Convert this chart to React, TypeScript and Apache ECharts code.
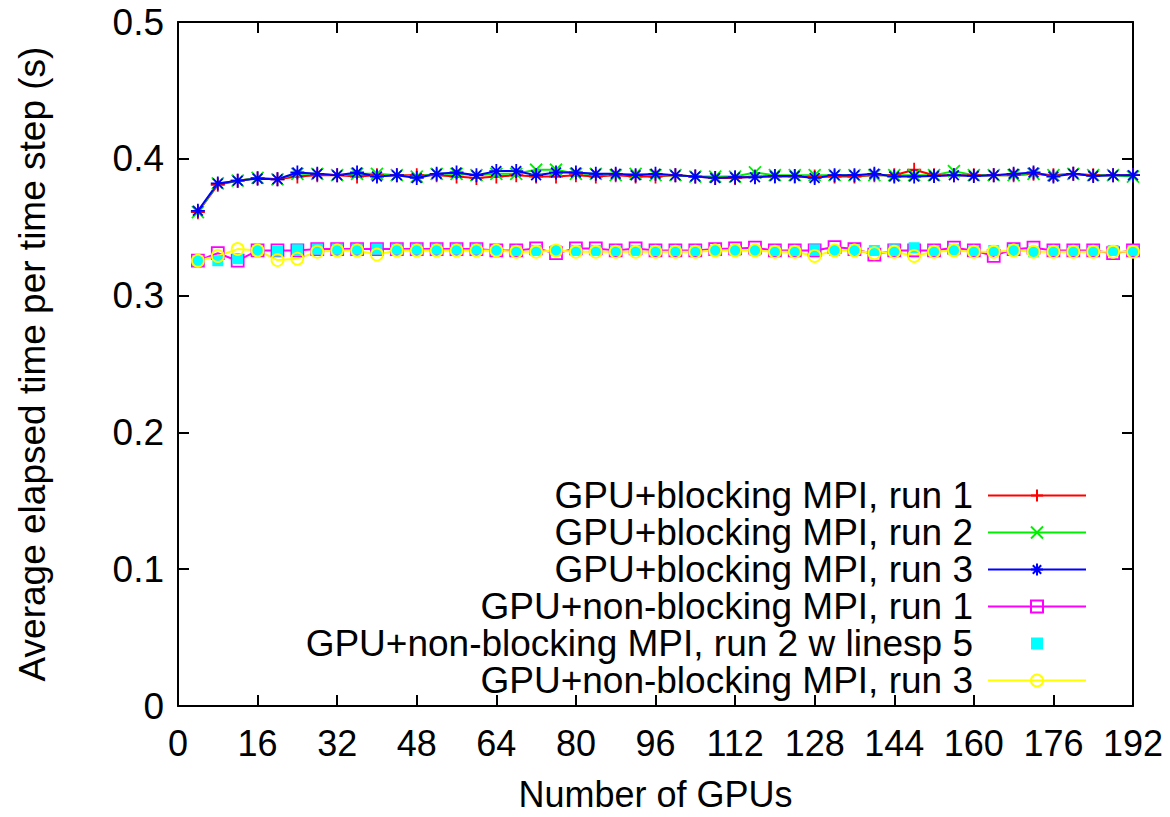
import React, { useEffect, useRef } from "react";
import * as echarts from "echarts";

const gpus = [4, 8, 12, 16, 20, 24, 28, 32, 36, 40, 44, 48, 52, 56, 60, 64, 68, 72, 76, 80, 84, 88, 92, 96, 100, 104, 108, 112, 116, 120, 124, 128, 132, 136, 140, 144, 148, 152, 156, 160, 164, 168, 172, 176, 180, 184, 188, 192];

const blockingRun1 = [0.361, 0.381, 0.384, 0.386, 0.385, 0.387, 0.388, 0.388, 0.387, 0.388, 0.388, 0.388, 0.388, 0.387, 0.386, 0.387, 0.388, 0.387, 0.387, 0.388, 0.387, 0.388, 0.387, 0.387, 0.388, 0.387, 0.386, 0.386, 0.387, 0.387, 0.387, 0.387, 0.387, 0.387, 0.388, 0.388, 0.392, 0.388, 0.388, 0.388, 0.388, 0.388, 0.389, 0.388, 0.389, 0.388, 0.388, 0.388];
const blockingRun2 = [0.361, 0.382, 0.384, 0.386, 0.385, 0.389, 0.389, 0.388, 0.389, 0.389, 0.388, 0.387, 0.389, 0.389, 0.388, 0.389, 0.389, 0.392, 0.392, 0.389, 0.389, 0.388, 0.389, 0.388, 0.388, 0.387, 0.387, 0.387, 0.390, 0.388, 0.388, 0.388, 0.388, 0.388, 0.388, 0.388, 0.388, 0.388, 0.391, 0.388, 0.388, 0.388, 0.389, 0.388, 0.389, 0.388, 0.388, 0.387];
const blockingRun3 = [0.362, 0.382, 0.384, 0.3855, 0.385, 0.390, 0.389, 0.388, 0.390, 0.387, 0.388, 0.386, 0.389, 0.390, 0.388, 0.391, 0.391, 0.388, 0.390, 0.390, 0.389, 0.389, 0.388, 0.389, 0.388, 0.387, 0.386, 0.3865, 0.3865, 0.3875, 0.3875, 0.386, 0.388, 0.388, 0.389, 0.387, 0.387, 0.3875, 0.388, 0.3875, 0.388, 0.389, 0.390, 0.387, 0.389, 0.3875, 0.388, 0.388];
const nonBlockingRun1 = [0.3255, 0.331, 0.3255, 0.333, 0.333, 0.333, 0.334, 0.334, 0.334, 0.334, 0.334, 0.334, 0.334, 0.334, 0.334, 0.333, 0.333, 0.3345, 0.331, 0.3345, 0.3345, 0.333, 0.3345, 0.333, 0.333, 0.333, 0.334, 0.3345, 0.335, 0.333, 0.333, 0.333, 0.3355, 0.334, 0.330, 0.333, 0.333, 0.333, 0.335, 0.333, 0.329, 0.334, 0.335, 0.333, 0.333, 0.333, 0.331, 0.333];
const nonBlockingRun2 = [0.3255, 0.3255, 0.327, 0.333, 0.3325, 0.3335, 0.334, 0.334, 0.334, 0.334, 0.334, 0.334, 0.334, 0.334, 0.334, 0.333, 0.333, 0.333, 0.333, 0.333, 0.333, 0.333, 0.333, 0.333, 0.333, 0.333, 0.333, 0.333, 0.333, 0.333, 0.333, 0.3335, 0.333, 0.3335, 0.333, 0.3335, 0.335, 0.333, 0.3335, 0.333, 0.333, 0.3335, 0.332, 0.333, 0.333, 0.333, 0.333, 0.333];
const nonBlockingRun3 = [0.3255, 0.329, 0.334, 0.333, 0.326, 0.327, 0.332, 0.333, 0.333, 0.330, 0.333, 0.333, 0.333, 0.333, 0.333, 0.333, 0.332, 0.332, 0.333, 0.332, 0.332, 0.332, 0.332, 0.332, 0.332, 0.332, 0.333, 0.333, 0.333, 0.332, 0.332, 0.329, 0.333, 0.333, 0.331, 0.332, 0.329, 0.332, 0.333, 0.332, 0.332, 0.333, 0.332, 0.332, 0.332, 0.332, 0.332, 0.332];

const seriesNames = [
  "GPU+blocking MPI, run 1",
  "GPU+blocking MPI, run 2",
  "GPU+blocking MPI, run 3",
  "GPU+non-blocking MPI, run 1",
  "GPU+non-blocking MPI, run 2 w linesp 5",
  "GPU+non-blocking MPI, run 3",
];

const xTitle = "Number of GPUs";
const yTitle = "Average elapsed time per time step (s)";

const FONT = "'Liberation Sans', Arial, Helvetica, sans-serif";

const PLUS = "path://M0,5L10,5M5,0L5,10";
const CROSS = "path://M0,0L10,10M10,0L0,10";
const STAR = "path://M0,5L10,5M5,0L5,10M1.5,1.5L8.5,8.5M8.5,1.5L1.5,8.5";
const SQUARE = "path://M0,0L10,0L10,10L0,10Z";

function pairs(vals: number[]) {
  return gpus.map((g, i) => [g, vals[i]]);
}

export default function App() {
  const ref = useRef<HTMLDivElement>(null);
  useEffect(() => {
    if (!ref.current) return;
    const chart = echarts.init(ref.current, null, { renderer: "svg" });

    const lineSeries = (
      name: string,
      vals: number[],
      color: string,
      symbol: string,
      size: number,
      filled: boolean,
      showLine: boolean
    ) => ({
      type: "line",
      name,
      data: pairs(vals),
      xAxisIndex: 0,
      yAxisIndex: 0,
      symbol,
      symbolSize: size,
      showSymbol: true,
      lineStyle: showLine
        ? { color, width: 2 }
        : { color, width: 0, opacity: 0 },
      itemStyle: filled
        ? { color, borderWidth: 0 }
        : { color: "none", borderColor: color, borderWidth: 1.8 },
      emphasis: { disabled: true },
    });

    const axisCommon = {
      axisLine: { show: true, onZero: false, lineStyle: { color: "#000", width: 2 } },
      axisTick: { show: true, inside: true, length: 11, lineStyle: { color: "#000", width: 2 } },
      splitLine: { show: false },
    };

    chart.setOption({
      animation: false,
      backgroundColor: "#fff",
      grid: { left: 178, right: 37, top: 22, bottom: 108, containLabel: false },
      xAxis: [
        {
          type: "value",
          min: 0,
          max: 192,
          interval: 16,
          position: "bottom",
          name: xTitle,
          nameLocation: "middle",
          nameGap: 70,
          nameTextStyle: { fontSize: 36, fontFamily: FONT, color: "#000" },
          axisLabel: { fontSize: 36, fontFamily: FONT, color: "#000", margin: 19 },
          ...axisCommon,
        },
        {
          type: "value",
          min: 0,
          max: 192,
          interval: 16,
          position: "top",
          axisLabel: { show: false },
          ...axisCommon,
        },
      ],
      yAxis: [
        {
          type: "value",
          min: 0,
          max: 0.5,
          interval: 0.1,
          position: "left",
          name: yTitle,
          nameLocation: "middle",
          nameGap: 127,
          nameTextStyle: { fontSize: 37, fontFamily: FONT, color: "#000" },
          axisLabel: { fontSize: 37, fontFamily: FONT, color: "#000", margin: 14 },
          ...axisCommon,
        },
        {
          type: "value",
          min: 0,
          max: 0.5,
          interval: 0.1,
          position: "right",
          axisLabel: { show: false },
          ...axisCommon,
        },
      ],
      legend: {
        orient: "vertical",
        right: 83,
        top: 477,
        align: "right",
        itemWidth: 98,
        itemHeight: 15,
        itemGap: 0,
        padding: 0,
        selectedMode: false,
        data: seriesNames,
        textStyle: {
          fontSize: 37,
          fontFamily: FONT,
          color: "#000",
          lineHeight: 37,
          padding: [0, 10, 0, 0],
        },
      },
      series: [
        lineSeries(seriesNames[0], blockingRun1, "#ff0000", PLUS, 14, false, true),
        lineSeries(seriesNames[1], blockingRun2, "#00ee00", CROSS, 12, false, true),
        lineSeries(seriesNames[2], blockingRun3, "#0000ff", STAR, 14, false, true),
        lineSeries(seriesNames[3], nonBlockingRun1, "#ff00ff", SQUARE, 12, false, true),
        lineSeries(seriesNames[4], nonBlockingRun2, "#00ffff", "rect", 11, true, false),
        lineSeries(seriesNames[5], nonBlockingRun3, "#ffff00", "circle", 12, false, true),
      ],
    });
    return () => chart.dispose();
  }, []);
  return (
    <div
      ref={ref}
      style={{ position: "fixed", left: 0, top: 0, width: 1170, height: 817, background: "#fff" }}
    />
  );
}
